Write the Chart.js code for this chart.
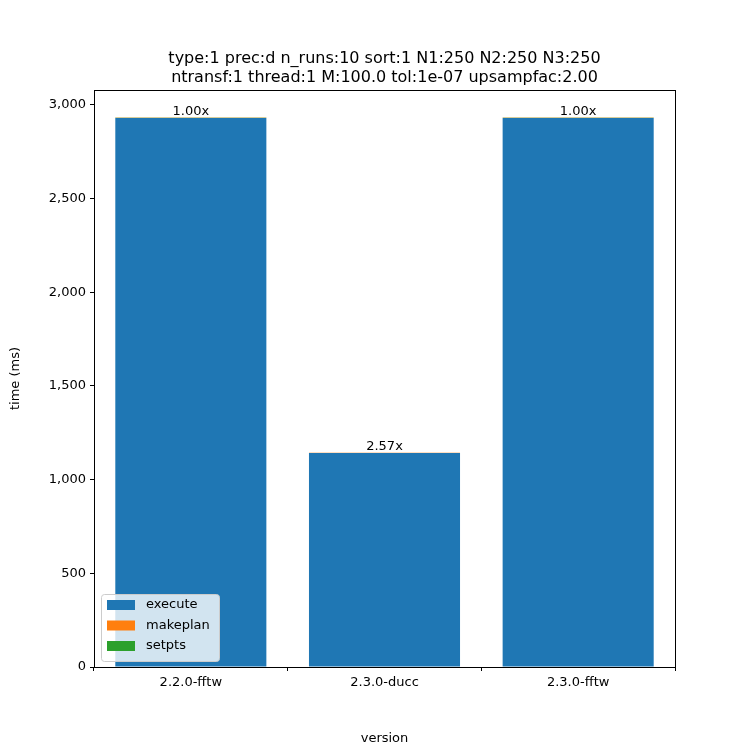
<!DOCTYPE html>
<html>
<head>
<meta charset="utf-8">
<script src="https://cdn.jsdelivr.net/npm/chart.js@4"></script>
<style>body{margin:0;background:#fff}#wrap{width:750px;height:750px}</style>
</head>
<body>
<div id="wrap"><canvas id="c" width="750" height="750"></canvas></div>
<script>
const versions = ['2.2.0-fftw', '2.3.0-ducc', '2.3.0-fftw'];
const execute  = [2931, 1142, 2931];
const makeplan = [1, 1, 1];
const setpts   = [1, 1, 1];
const speedup  = ['1.00x', '2.57x', '1.00x'];
const yTicks   = [0, 500, 1000, 1500, 2000, 2500, 3000];
const titleLines = ['type:1 prec:d n_runs:10 sort:1 N1:250 N2:250 N3:250',
                    'ntransf:1 thread:1 M:100.0 tol:1e-07 upsampfac:2.00'];

const blue = '#1f77b4', orange = '#ff7f0e', green = '#2ca02c';
const font = 'DejaVu Sans';

const extras = {
  id: 'extras',
  afterDraw(chart) {
    const { ctx, chartArea: a } = chart;
    ctx.save();
    ctx.strokeStyle = '#000'; ctx.lineWidth = 1;
    ctx.strokeRect(a.left + 0.5, a.top + 0.5, a.right - a.left, a.bottom - a.top);

    ctx.fillStyle = '#000';
    ctx.textAlign = 'center';
    ctx.font = '16px ' + font;
    ctx.textBaseline = 'alphabetic';
    ctx.fillText(titleLines[0], (a.left + a.right) / 2, 63);
    ctx.fillText(titleLines[1], (a.left + a.right) / 2, 82);

    // labels above stacks
    ctx.font = '13px ' + font;
    const top = chart.getDatasetMeta(2);
    top.data.forEach((bar, i) => ctx.fillText(speedup[i], bar.x, bar.y - 3));

    // legend box
    const lx = 101, ly = 594, lw = 118, lh = 67;
    ctx.fillStyle = 'rgba(255,255,255,0.8)';
    ctx.strokeStyle = '#cccccc';
    ctx.beginPath(); ctx.roundRect(lx + 0.5, ly + 0.5, lw, lh, 3); ctx.fill(); ctx.stroke();
    const items = [['execute', blue], ['makeplan', orange], ['setpts', green]];
    ctx.textAlign = 'left'; ctx.textBaseline = 'middle';
    items.forEach(([name, col], i) => {
      const y = ly + 11 + i * 20.5;
      ctx.fillStyle = col;
      ctx.fillRect(lx + 6, y - 5, 28, 10);
      ctx.fillStyle = '#000';
      ctx.fillText(name, lx + 45, y);
    });
    ctx.restore();
  }
};

new Chart(document.getElementById('c'), {
  type: 'bar',
  data: {
    labels: versions,
    datasets: [
      { label: 'execute', data: execute, backgroundColor: blue },
      { label: 'makeplan', data: makeplan, backgroundColor: orange },
      { label: 'setpts', data: setpts, backgroundColor: green }
    ]
  },
  options: {
    responsive: false,
    animation: false,
    layout: { padding: { left: 0, top: 90, right: 75, bottom: 0 } },
    datasets: { bar: { categoryPercentage: 1, barPercentage: 0.78 } },
    plugins: { legend: { display: false }, title: { display: false }, tooltip: { enabled: false } },
    scales: {
      x: {
        stacked: true,
        grid: { drawOnChartArea: false, tickLength: 4, color: '#000' },
        border: { display: false },
        ticks: { color: '#000', font: { family: font, size: 13 }, padding: 4 },
        title: { display: true, text: 'version', color: '#000', font: { family: font, size: 13 }, padding: 4 },
        afterFit: s => { s.height = 83; }
      },
      y: {
        stacked: true,
        min: 0, max: 3080,
        afterBuildTicks: s => { s.ticks = yTicks.map(v => ({ value: v })); },
        grid: { drawOnChartArea: false, tickLength: 4, color: '#000' },
        border: { display: false },
        ticks: { color: '#000', font: { family: font, size: 13 }, padding: 4 },
        title: { display: true, text: 'time (ms)', color: '#000', font: { family: font, size: 13 }, padding: 8 },
        afterFit: s => { s.width = 94; }
      }
    }
  },
  plugins: [extras]
});
</script>
</body>
</html>
